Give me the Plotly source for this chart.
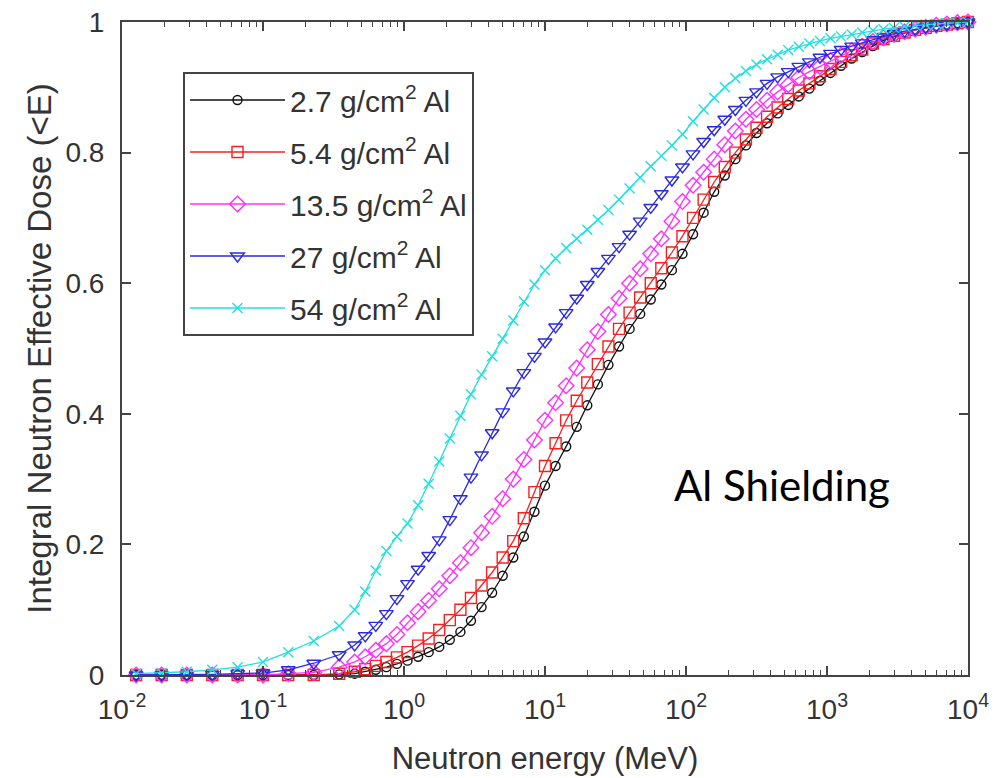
import plotly.graph_objects as go

# Neutron energy grid (MeV)
energy = [0.0126, 0.0191, 0.0288, 0.0437, 0.0661, 0.1, 0.151, 0.229, 0.347,
          0.447, 0.531, 0.631, 0.750, 0.891, 1.059, 1.259, 1.496, 1.778, 2.113,
          2.512, 2.985, 3.548, 4.217, 5.012, 5.957, 7.079, 8.414, 10.0, 11.89,
          14.13, 16.79, 19.95, 23.71, 28.18, 33.50, 39.81, 47.32, 56.23, 66.83,
          79.43, 94.41, 112.2, 133.4, 158.5, 188.4, 223.9, 266.1, 316.2, 375.8,
          446.7, 530.9, 631.0, 749.9, 891.3, 1059, 1259, 1496, 1778, 2113, 2512,
          2985, 3548, 4217, 5012, 5957, 7079, 8414, 10000]

dose_2p7 = [0, 0, 0, 0, 0, 0, 0, 0, 0.001,
            0.002, 0.005, 0.008, 0.012, 0.017, 0.022, 0.028, 0.035, 0.043, 0.054,
            0.066, 0.083, 0.104, 0.126, 0.152, 0.18, 0.212, 0.25, 0.29, 0.32,
            0.35, 0.38, 0.413, 0.445, 0.475, 0.503, 0.53, 0.553, 0.575, 0.598,
            0.62, 0.645, 0.675, 0.708, 0.74, 0.765, 0.79, 0.811, 0.83, 0.845,
            0.86, 0.873, 0.886, 0.898, 0.91, 0.922, 0.933, 0.944, 0.954, 0.963,
            0.972, 0.978, 0.983, 0.988, 0.991, 0.994, 0.996, 0.998, 1.0]

dose_5p4 = [0, 0, 0, 0, 0, 0, 0, 0, 0.002,
            0.005, 0.009, 0.014, 0.02, 0.027, 0.035, 0.045, 0.056, 0.069, 0.084,
            0.10, 0.118, 0.137, 0.157, 0.18, 0.205, 0.24, 0.28, 0.32, 0.355,
            0.39, 0.42, 0.448, 0.476, 0.503, 0.53, 0.555, 0.578, 0.6, 0.623,
            0.647, 0.672, 0.7, 0.728, 0.755, 0.778, 0.8, 0.82, 0.838, 0.855,
            0.869, 0.882, 0.895, 0.906, 0.917, 0.928, 0.939, 0.949, 0.958, 0.967,
            0.974, 0.979, 0.984, 0.988, 0.991, 0.994, 0.996, 0.998, 1.0]

dose_13p5 = [0, 0, 0, 0, 0, 0, 0.002, 0.004, 0.012,
             0.02, 0.028, 0.038, 0.048, 0.062, 0.08, 0.097, 0.114, 0.132, 0.152,
             0.172, 0.195, 0.218, 0.243, 0.27, 0.3, 0.33, 0.36, 0.39, 0.417,
             0.443, 0.47, 0.498, 0.526, 0.552, 0.577, 0.6, 0.622, 0.645, 0.668,
             0.695, 0.725, 0.75, 0.77, 0.79, 0.812, 0.833, 0.851, 0.866, 0.88,
             0.893, 0.904, 0.915, 0.924, 0.932, 0.941, 0.949, 0.956, 0.963, 0.97,
             0.976, 0.981, 0.985, 0.989, 0.992, 0.995, 0.997, 0.999, 1.0]

dose_27 = [0, 0, 0.001, 0.001, 0.002, 0.003, 0.008, 0.018, 0.031,
           0.046, 0.06, 0.076, 0.094, 0.117, 0.14, 0.162, 0.183, 0.207, 0.238,
           0.27, 0.303, 0.337, 0.371, 0.403, 0.435, 0.463, 0.488, 0.51, 0.533,
           0.555, 0.577, 0.598, 0.618, 0.638, 0.656, 0.675, 0.695, 0.716, 0.737,
           0.758, 0.778, 0.798, 0.817, 0.835, 0.851, 0.866, 0.88, 0.893, 0.906,
           0.916, 0.924, 0.932, 0.939, 0.946, 0.952, 0.958, 0.963, 0.968, 0.973,
           0.977, 0.982, 0.986, 0.989, 0.992, 0.994, 0.996, 0.998, 1.0]

dose_54 = [0.002, 0.003, 0.005, 0.008, 0.012, 0.02, 0.035, 0.052, 0.075,
           0.1, 0.128, 0.16, 0.19, 0.212, 0.232, 0.26, 0.293, 0.327, 0.362,
           0.397, 0.43, 0.46, 0.488, 0.515, 0.543, 0.572, 0.598, 0.62, 0.638,
           0.654, 0.668, 0.682, 0.697, 0.712, 0.728, 0.745, 0.762, 0.779, 0.795,
           0.811, 0.828, 0.848, 0.866, 0.884, 0.9, 0.914, 0.925, 0.935, 0.943,
           0.95, 0.957, 0.962, 0.967, 0.971, 0.975, 0.978, 0.981, 0.984, 0.987,
           0.989, 0.991, 0.993, 0.995, 0.996, 0.997, 0.998, 0.999, 1.0]

series_names = ["2.7 g/cm<sup>2</sup> Al", "5.4 g/cm<sup>2</sup> Al",
                "13.5 g/cm<sup>2</sup> Al", "27 g/cm<sup>2</sup> Al",
                "54 g/cm<sup>2</sup> Al"]
series_values = [dose_2p7, dose_5p4, dose_13p5, dose_27, dose_54]
series_colors = ["#111111", "#f52020", "#ff30ff", "#2a2ae0", "#20e0e0"]
series_symbols = ["circle-open", "square-open", "diamond-open",
                  "triangle-down-open", "x-thin-open"]
series_sizes = [9, 11, 12, 12, 10]

x_tick_vals = [0.01, 0.1, 1, 10, 100, 1000, 10000]
x_tick_text = ["10<sup>-2</sup>", "10<sup>-1</sup>", "10<sup>0</sup>",
               "10<sup>1</sup>", "10<sup>2</sup>", "10<sup>3</sup>",
               "10<sup>4</sup>"]
y_tick_vals = [0, 0.2, 0.4, 0.6, 0.8, 1]
y_tick_text = ["0", "0.2", "0.4", "0.6", "0.8", "1"]

minor_vals = [m * 10.0 ** k for k in range(-2, 4) for m in range(2, 10)]

FONT = "Liberation Sans, Arial, sans-serif"

fig = go.Figure()
for i, (name, vals, col, sym, sz) in enumerate(zip(series_names, series_values,
                                                    series_colors, series_symbols,
                                                    series_sizes)):
    fig.add_trace(go.Scatter(
        x=energy, y=vals, name=name, mode="lines+markers",
        line=dict(color=col, width=1.3),
        marker=dict(symbol=sym, size=sz, color=col, line=dict(color=col, width=1.4)),
        legendgroup=f"g{i}", cliponaxis=False,
    ))

fig.add_annotation(
    text="Al Shielding", xref="paper", yref="paper", x=0.650, y=0.291,
    xanchor="left", yanchor="middle", showarrow=False,
    font=dict(family="Lato, Open Sans, sans-serif", size=42, color="#000000"),
)

fig.update_layout(
    width=998, height=778,
    margin=dict(l=122, r=30, t=22, b=103, autoexpand=False),
    paper_bgcolor="white", plot_bgcolor="white",
    font=dict(family=FONT, color="#333333"),
    showlegend=True,
    legend=dict(
        x=0.0721, y=0.9234, xanchor="left", yanchor="top",
        bgcolor="white", bordercolor="#444444", borderwidth=2,
        font=dict(family=FONT, size=30, color="#333333"),
        itemwidth=95, tracegroupgap=10,
    ),
)

fig.update_xaxes(
    type="log", range=[-2, 4],
    tickmode="array", tickvals=x_tick_vals, ticktext=x_tick_text,
    ticks="inside", ticklen=9, tickwidth=1.5, tickcolor="#444444",
    minor=dict(tickmode="array", tickvals=minor_vals, ticks="inside",
               ticklen=5, tickwidth=1.2, tickcolor="#444444", showgrid=False),
    showline=True, linecolor="#444444", linewidth=2, mirror="ticks",
    showgrid=False, zeroline=False,
    tickfont=dict(family=FONT, size=28, color="#333333"),
    ticklabelstandoff=8,
    title=dict(text="Neutron energy (MeV)", standoff=24,
               font=dict(family=FONT, size=31, color="#333333")),
)
fig.update_yaxes(
    range=[0, 1],
    tickmode="array", tickvals=y_tick_vals, ticktext=y_tick_text,
    ticks="inside", ticklen=9, tickwidth=1.5, tickcolor="#444444",
    showline=True, linecolor="#444444", linewidth=2, mirror="ticks",
    showgrid=False, zeroline=False,
    tickfont=dict(family=FONT, size=28, color="#333333"),
    ticklabelstandoff=10,
    title=dict(text="Integral Neutron Effective Dose (<E)", standoff=4,
               font=dict(family=FONT, size=33, color="#333333")),
)

fig.write_html("out.html")
